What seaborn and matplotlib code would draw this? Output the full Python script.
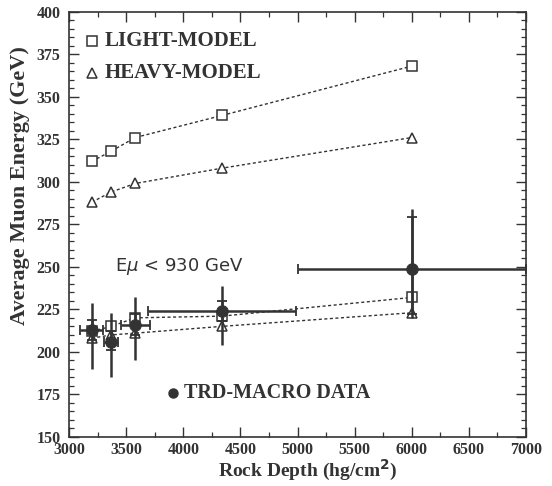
import matplotlib
matplotlib.use("Agg")
import matplotlib.pyplot as plt
from matplotlib.ticker import MultipleLocator
import seaborn as sns
import pandas as pd

# ---- data ----
depth = [3200, 3370, 3580, 4340, 6000]
light_all = [312, 318, 326, 339, 368]
heavy_all = [288, 294, 299, 308, 326]
light_cut = [212, 215, 220, 221, 232]
heavy_cut = [208, 210, 211, 215, 223]

data_y = [213, 206, 216, 224, 249]
stat_up = [6, 6, 6, 6, 30]
stat_dn = [6, 5, 6, 6, 27]
tot_up = [16, 17, 16, 15, 35]
tot_dn = [23, 21, 21, 20, 29]
x_err = [100, 60, 125, 650, 1000]

sns.set_theme(style="ticks")
plt.rcParams['font.family'] = ['Liberation Serif', 'DejaVu Serif']

INK = "#333333"
fig = plt.figure(figsize=(5.52, 4.86), dpi=100)
ax = fig.add_axes([0.125, 0.101, 0.828, 0.875])

models = pd.DataFrame({
    "depth": depth * 4,
    "energy": light_all + heavy_all + light_cut + heavy_cut,
    "set": ["la"] * 5 + ["ha"] * 5 + ["lc"] * 5 + ["hc"] * 5,
})
mk = {"la": "s", "ha": "^", "lc": "s", "hc": "^"}
for key, grp in models.groupby("set"):
    sns.lineplot(data=grp, x="depth", y="energy", ax=ax, color=INK,
                 linestyle=(0, (2.2, 1.8)), linewidth=1.0, marker=mk[key],
                 markersize=7, markerfacecolor="white", markeredgecolor=INK,
                 markeredgewidth=1.1, zorder=3)

# data with errors
ax.errorbar(depth, data_y, yerr=[tot_dn, tot_up], fmt="none", ecolor=INK,
            elinewidth=1.8, capsize=0, zorder=4)
ax.errorbar(depth, data_y, yerr=[stat_dn, stat_up], xerr=x_err, fmt="none",
            ecolor=INK, elinewidth=1.8, capsize=3.5, capthick=1.3, zorder=4)
sns.scatterplot(x=depth, y=data_y, ax=ax, color=INK, s=70, marker="o",
                edgecolor=INK, zorder=5)

ax.set_xlim(3000, 7000)
ax.set_ylim(150, 400)
ax.xaxis.set_major_locator(MultipleLocator(500))
ax.xaxis.set_minor_locator(MultipleLocator(250))
ax.yaxis.set_major_locator(MultipleLocator(25))
ax.yaxis.set_minor_locator(MultipleLocator(5))
ax.tick_params(which="both", direction="in", top=True, right=True, colors=INK)
ax.tick_params(which="major", length=7, width=1.0, labelsize=11.5)
ax.tick_params(axis="x", which="major", pad=4)
ax.tick_params(axis="y", which="major", pad=6)
ax.tick_params(which="minor", length=3.5, width=0.9)
for lab in ax.get_xticklabels() + ax.get_yticklabels():
    lab.set_fontweight("bold")
for sp in ax.spines.values():
    sp.set_linewidth(1.2)
    sp.set_color(INK)

ax.set_xlabel("Rock Depth (hg/cm$^\\mathbf{2}$)", fontsize=14, fontweight="bold", color=INK)
ax.set_ylabel("Average Muon Energy (GeV)", fontsize=16, fontweight="bold", color=INK)
ax.xaxis.label.set_va("center")
ax.yaxis.label.set_va("center")
ax.xaxis.set_label_coords(0.523, -0.078)
ax.yaxis.set_label_coords(-0.108, 0.59)

# legend-like annotations
ax.plot([3200], [383], marker="s", ms=6.5, mfc="white", mec=INK, mew=1.1, ls="none")
ax.text(3310, 383, "LIGHT-MODEL", fontsize=15, fontweight="bold", va="center", color=INK)
ax.plot([3200], [364], marker="^", ms=6.5, mfc="white", mec=INK, mew=1.1, ls="none")
ax.text(3310, 364, "HEAVY-MODEL", fontsize=15, fontweight="bold", va="center", color=INK)
ax.text(3400, 250, "E$\\mu$ < 930 GeV", fontsize=13, va="center", color=INK,
        family=["DejaVu Sans"])
ax.plot([3912], [176], marker="o", ms=6.5, color=INK, ls="none")
ax.text(4010, 176, "TRD-MACRO DATA", fontsize=14.5, fontweight="bold", va="center", color=INK)

fig.savefig("out.png", dpi=100)
